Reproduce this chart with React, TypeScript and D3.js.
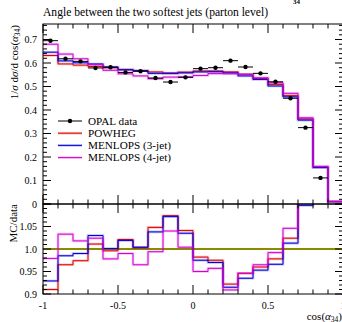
import React, { useEffect, useRef } from 'react';
import * as d3 from 'd3';

// bin edges: 20 bins of 0.1 on cos(alpha34)
const binEdges = d3.range(21).map(i => -1 + i * 0.1);

// OPAL data (per bin, last bin has no point)
const opalData = [0.695, 0.618, 0.607, 0.579, 0.582, 0.56, 0.565, 0.536, 0.519, 0.539,
  0.576, 0.58, 0.61, 0.583, 0.556, 0.52, 0.45, 0.325, 0.111, null];

const powheg = [0.632, 0.596, 0.591, 0.585, 0.58, 0.572, 0.567, 0.562, 0.557, 0.561,
  0.566, 0.566, 0.562, 0.552, 0.534, 0.509, 0.461, 0.362, 0.157, 0.01];
const menlops3 = [0.646, 0.609, 0.601, 0.596, 0.583, 0.571, 0.567, 0.556, 0.556, 0.558,
  0.562, 0.563, 0.558, 0.545, 0.53, 0.502, 0.456, 0.357, 0.155, 0.01];
const menlops4 = [0.68, 0.638, 0.618, 0.593, 0.569, 0.554, 0.545, 0.533, 0.54, 0.541,
  0.547, 0.555, 0.554, 0.552, 0.537, 0.516, 0.471, 0.367, 0.16, 0.011];

// MC / data ratios
const ratioPowheg = [0.91, 0.965, 0.974, 1.011, 0.996, 1.021, 1.003, 1.048, 1.074, 1.041,
  0.982, 0.975, 0.922, 0.946, 0.96, 0.978, 1.024, 1.114, 1.41, null];
const ratioMenlops3 = [0.929, 0.985, 0.99, 1.03, 1.001, 1.019, 1.004, 1.038, 1.072, 1.035,
  0.975, 0.97, 0.915, 0.935, 0.953, 0.966, 1.013, 1.097, 1.4, null];
const ratioMenlops4 = [0.979, 1.033, 1.018, 1.024, 0.978, 0.99, 0.965, 0.994, 1.04, 1.004,
  0.95, 0.957, 0.909, 0.946, 0.965, 0.992, 1.046, 1.13, 1.44, null];

const mainTicks = [0, 0.1, 0.2, 0.3, 0.4, 0.5, 0.6, 0.7];
const ratioTicks = [0.9, 0.95, 1.0, 1.05];
const ratioTickLabels = ['0.9', '0.95', '1.0', '1.05'];
const xTicks = [-1, -0.5, 0, 0.5, 1];
const xTickLabels = ['-1', '-0.5', '0', '0.5', '1'];

const series = [
  { name: 'POWHEG', color: '#e00000', main: powheg, ratio: ratioPowheg },
  { name: 'MENLOPS (3-jet)', color: '#0000e0', main: menlops3, ratio: ratioMenlops3 },
  { name: 'MENLOPS (4-jet)', color: '#d400d4', main: menlops4, ratio: ratioMenlops4 },
];

const FONT = '"Liberation Serif", "DejaVu Serif", serif';

const App = () => {
  const svgRef = useRef(null);

  useEffect(() => {
    const svg = d3.select(svgRef.current);
    svg.selectAll('*').remove();

    const left = 43, right = 343;
    const mainTop = 24, mainBottom = 204;
    const ratioTop = 204, ratioBottom = 294;

    const x = d3.scaleLinear().domain([-1, 1]).range([left, right]);
    const y = d3.scaleLinear().domain([0, 0.766]).range([mainBottom, mainTop]);
    const yr = d3.scaleLinear().domain([0.9, 1.1]).range([ratioBottom, ratioTop]);

    const defs = svg.append('defs');
    defs.append('clipPath').attr('id', 'clipMain')
      .append('rect').attr('x', left).attr('y', mainTop)
      .attr('width', right - left).attr('height', mainBottom - mainTop);
    defs.append('clipPath').attr('id', 'clipRatio')
      .append('rect').attr('x', left).attr('y', ratioTop)
      .attr('width', right - left).attr('height', ratioBottom - ratioTop);

    // title
    svg.append('text')
      .attr('x', left).attr('y', 16)
      .attr('font-size', 11.6).attr('font-family', FONT)
      .text('Angle between the two softest jets (parton level)');
    svg.append('text')
      .attr('x', 293).attr('y', 4)
      .attr('font-size', 7).attr('font-weight', 'bold').attr('font-family', FONT)
      .text('34');

    // step histogram path
    const histPath = (vals, scale) => {
      const pts = [];
      vals.forEach((v, i) => {
        if (v == null) return;
        pts.push([x(binEdges[i]), scale(v)]);
        pts.push([x(binEdges[i + 1]), scale(v)]);
      });
      return d3.line()(pts);
    };

    const drawHist = (g, vals, scale, color) => {
      const d = histPath(vals, scale);
      g.append('path').attr('d', d).attr('fill', 'none')
        .attr('stroke', color).attr('stroke-opacity', 0.25).attr('stroke-width', 2.6);
      g.append('path').attr('d', d).attr('fill', 'none')
        .attr('stroke', color).attr('stroke-width', 1);
    };

    // main panel
    const gMain = svg.append('g').attr('clip-path', 'url(#clipMain)');
    series.forEach(s => drawHist(gMain, s.main, y, s.color));

    const pts = opalData.map((v, i) => ({ v, i })).filter(p => p.v != null);
    gMain.selectAll('line.err').data(pts).enter().append('line')
      .attr('x1', p => x(binEdges[p.i])).attr('x2', p => x(binEdges[p.i + 1]))
      .attr('y1', p => y(p.v)).attr('y2', p => y(p.v))
      .attr('stroke', 'black').attr('stroke-width', 1);
    gMain.selectAll('circle').data(pts).enter().append('circle')
      .attr('cx', p => (x(binEdges[p.i]) + x(binEdges[p.i + 1])) / 2)
      .attr('cy', p => y(p.v)).attr('r', 2.2).attr('fill', 'black');

    // ratio panel
    const gRatio = svg.append('g').attr('clip-path', 'url(#clipRatio)');
    gRatio.append('line')
      .attr('x1', left).attr('x2', right).attr('y1', yr(1)).attr('y2', yr(1))
      .attr('stroke', '#dada00').attr('stroke-width', 2.2);
    gRatio.append('line')
      .attr('x1', left).attr('x2', right).attr('y1', yr(1)).attr('y2', yr(1))
      .attr('stroke', '#2a2a00').attr('stroke-width', 0.9);
    series.forEach(s => drawHist(gRatio, s.ratio, yr, s.color));

    // frames
    [[mainTop, mainBottom], [ratioTop, ratioBottom]].forEach(([t, b]) => {
      svg.append('rect').attr('x', left).attr('y', t)
        .attr('width', right - left).attr('height', b - t)
        .attr('fill', 'none').attr('stroke', 'black').attr('stroke-width', 1);
    });

    const tick = (x1, y1, x2, y2) => svg.append('line')
      .attr('x1', x1).attr('y1', y1).attr('x2', x2).attr('y2', y2)
      .attr('stroke', 'black').attr('stroke-width', 1);

    // x ticks on all horizontal edges
    const xMinor = d3.range(21).map(i => -1 + i * 0.1);
    const hEdges = [[mainTop, 1], [mainBottom, -1], [ratioTop, 1], [ratioBottom, -1]];
    hEdges.forEach(([yy, dir]) => {
      xMinor.forEach(v => {
        const major = Math.abs(v * 2 - Math.round(v * 2)) < 1e-6;
        const len = major ? 9 : 4.5;
        tick(x(v), yy, x(v), yy + dir * len);
      });
    });

    // y ticks main
    d3.range(0, 0.767, 0.02).forEach(v => {
      const major = Math.abs(v * 10 - Math.round(v * 10)) < 1e-6;
      const len = major ? 8 : 4;
      tick(left, y(v), left + len, y(v));
      tick(right, y(v), right - len, y(v));
    });
    // y ticks ratio
    d3.range(0.9, 1.1001, 0.01).forEach(v => {
      const major = Math.abs(v * 20 - Math.round(v * 20)) < 1e-6;
      const len = major ? 8 : 4;
      tick(left, yr(v), left + len, yr(v));
      tick(right, yr(v), right - len, yr(v));
    });

    // tick labels
    svg.selectAll('text.ym').data(mainTicks).enter().append('text')
      .attr('x', 37).attr('y', v => y(v) + 3.5)
      .attr('text-anchor', 'end').attr('font-size', 10).attr('font-family', FONT)
      .text(v => (v === 0 ? '0' : v.toFixed(1)));
    svg.selectAll('text.yr').data(ratioTicks).enter().append('text')
      .attr('x', 37).attr('y', v => yr(v) + 3.5)
      .attr('text-anchor', 'end').attr('font-size', 10).attr('font-family', FONT)
      .text((v, i) => ratioTickLabels[i]);
    svg.selectAll('text.xt').data(xTicks).enter().append('text')
      .attr('x', v => x(v)).attr('y', 309)
      .attr('text-anchor', 'middle').attr('font-size', 10).attr('font-family', FONT)
      .text((v, i) => xTickLabels[i]);

    // axis labels
    const xl = svg.append('text')
      .attr('x', 342).attr('y', 320)
      .attr('text-anchor', 'end').attr('font-size', 11).attr('font-family', FONT);
    xl.append('tspan').text('cos(');
    xl.append('tspan').attr('font-style', 'italic').text('α');
    xl.append('tspan').attr('font-size', 7.5).attr('dy', 2).text('34');
    xl.append('tspan').attr('dy', -2).text(')');

    const yl = svg.append('text')
      .attr('transform', 'translate(18,25) rotate(-90)')
      .attr('text-anchor', 'end').attr('font-size', 11).attr('font-family', FONT);
    yl.append('tspan').text('1/');
    yl.append('tspan').attr('font-style', 'italic').text('σ');
    yl.append('tspan').text(' d');
    yl.append('tspan').attr('font-style', 'italic').text('σ');
    yl.append('tspan').text('/d cos(');
    yl.append('tspan').attr('font-style', 'italic').text('α');
    yl.append('tspan').attr('font-size', 7.5).attr('dy', 2).text('34');
    yl.append('tspan').attr('dy', -2).text(')');

    svg.append('text')
      .attr('transform', 'translate(17,204) rotate(-90)')
      .attr('text-anchor', 'end').attr('font-size', 11).attr('font-family', FONT)
      .text('MC/data');

    // legend
    const legend = svg.append('g');
    const rows = [{ name: 'OPAL data', color: 'black', data: true }, ...series];
    rows.forEach((r, i) => {
      const ly = 121 + i * 12.2;
      if (!r.data) {
        legend.append('line').attr('x1', 58).attr('x2', 82).attr('y1', ly).attr('y2', ly)
          .attr('stroke', r.color).attr('stroke-opacity', 0.25).attr('stroke-width', 2.6);
      }
      legend.append('line').attr('x1', 58).attr('x2', 82).attr('y1', ly).attr('y2', ly)
        .attr('stroke', r.color).attr('stroke-width', 1);
      if (r.data) {
        legend.append('circle').attr('cx', 70).attr('cy', ly).attr('r', 2.2).attr('fill', 'black');
      }
      legend.append('text').attr('x', 88).attr('y', ly + 3.8)
        .attr('font-size', 11.2).attr('font-family', FONT).text(r.name);
    });
  }, []);

  return (
    <svg ref={svgRef} width={342} height={322}
      style={{ position: 'absolute', left: 0, top: 0, background: 'white' }} />
  );
};

export default App;
